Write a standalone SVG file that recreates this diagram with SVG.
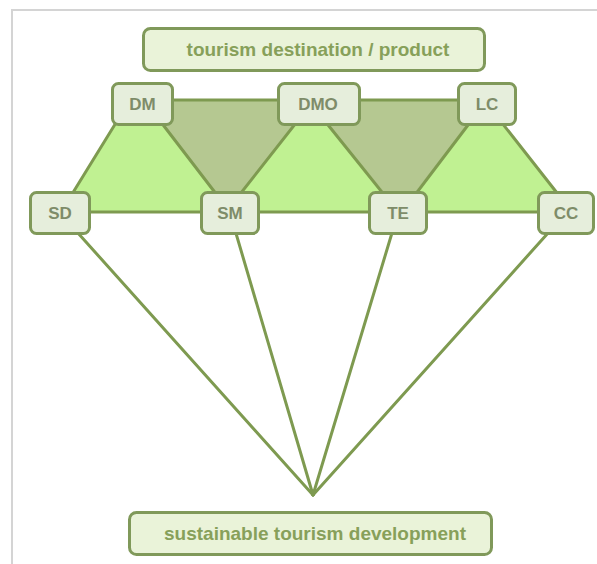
<svg xmlns="http://www.w3.org/2000/svg" width="597" height="564" viewBox="0 0 597 564">
  <style>
    .frame { fill: none; stroke: #d4d4d4; stroke-width: 2; }
    .light { fill: #c0f192; }
    .dark { fill: #b5c891; }
    .edge { stroke: #7e9a50; stroke-width: 3; fill: none; stroke-linecap: round; }
    .node rect { fill: #e6eedc; stroke: #80995a; stroke-width: 3; }
    .box rect { fill: #eaf3d9; stroke: #80995a; stroke-width: 3; }
    .node text { font-family: "Liberation Sans", Arial, sans-serif; font-weight: bold; font-size: 17px; fill: #7e8c69; text-anchor: middle; }
    .box text { font-family: "Liberation Sans", Arial, sans-serif; font-weight: bold; font-size: 19px; fill: #87a05a; text-anchor: middle; }
  </style>

  <!-- page frame -->
  <rect class="frame" x="12" y="10" width="600" height="600"/>

  <!-- shaded areas between the nodes -->
  <g id="areas">
    <polygon class="light" points="130,100 144,100 230,212 61,212"/>
    <polygon class="dark" points="144,100 314,100 228,212"/>
    <polygon class="light" points="311,102 226,212 398,212"/>
    <polygon class="dark" points="308,100 487,100 400,212"/>
    <polygon class="light" points="484,102 402,212 572,212"/>
  </g>

  <!-- connectors -->
  <g id="connectors">
    <line class="edge" x1="142" y1="100" x2="487" y2="100"/>
    <line class="edge" x1="60" y1="212" x2="566" y2="212"/>
    <line class="edge" x1="130" y1="100" x2="61" y2="212"/>
    <line class="edge" x1="144" y1="100" x2="230" y2="212"/>
    <line class="edge" x1="314" y1="100" x2="226" y2="212"/>
    <line class="edge" x1="308" y1="100" x2="398" y2="212"/>
    <line class="edge" x1="487" y1="100" x2="402" y2="212"/>
    <line class="edge" x1="484" y1="100" x2="572" y2="212"/>
    <line class="edge" x1="60" y1="213" x2="313" y2="495"/>
    <line class="edge" x1="230" y1="213" x2="313" y2="495"/>
    <line class="edge" x1="398" y1="213" x2="313" y2="495"/>
    <line class="edge" x1="566" y1="213" x2="313" y2="495"/>
  </g>

  <g id="destination" class="box">
    <rect x="143.5" y="28.5" width="341" height="42" rx="7"/>
    <text x="318" y="56">tourism destination / product</text>
  </g>

  <g id="dm" class="node">
    <rect x="112.5" y="83.5" width="60" height="41" rx="6"/>
    <text x="142.5" y="110">DM</text>
  </g>
  <g id="dmo" class="node">
    <rect x="278.5" y="83.5" width="81" height="41" rx="6"/>
    <text x="318" y="110">DMO</text>
  </g>
  <g id="lc" class="node">
    <rect x="458.5" y="83.5" width="57" height="41" rx="6"/>
    <text x="487" y="110">LC</text>
  </g>

  <g id="sd" class="node">
    <rect x="30.5" y="192.5" width="59" height="41" rx="6"/>
    <text x="60" y="219">SD</text>
  </g>
  <g id="sm" class="node">
    <rect x="201.5" y="192.5" width="57" height="41" rx="6"/>
    <text x="230" y="219">SM</text>
  </g>
  <g id="te" class="node">
    <rect x="369.5" y="192.5" width="57" height="41" rx="6"/>
    <text x="398" y="219">TE</text>
  </g>
  <g id="cc" class="node">
    <rect x="538.5" y="192.5" width="55" height="41" rx="6"/>
    <text x="566" y="219">CC</text>
  </g>

  <g id="development" class="box">
    <rect x="129.5" y="512.5" width="362" height="42" rx="7"/>
    <text x="315" y="540">sustainable tourism development</text>
  </g>
</svg>
